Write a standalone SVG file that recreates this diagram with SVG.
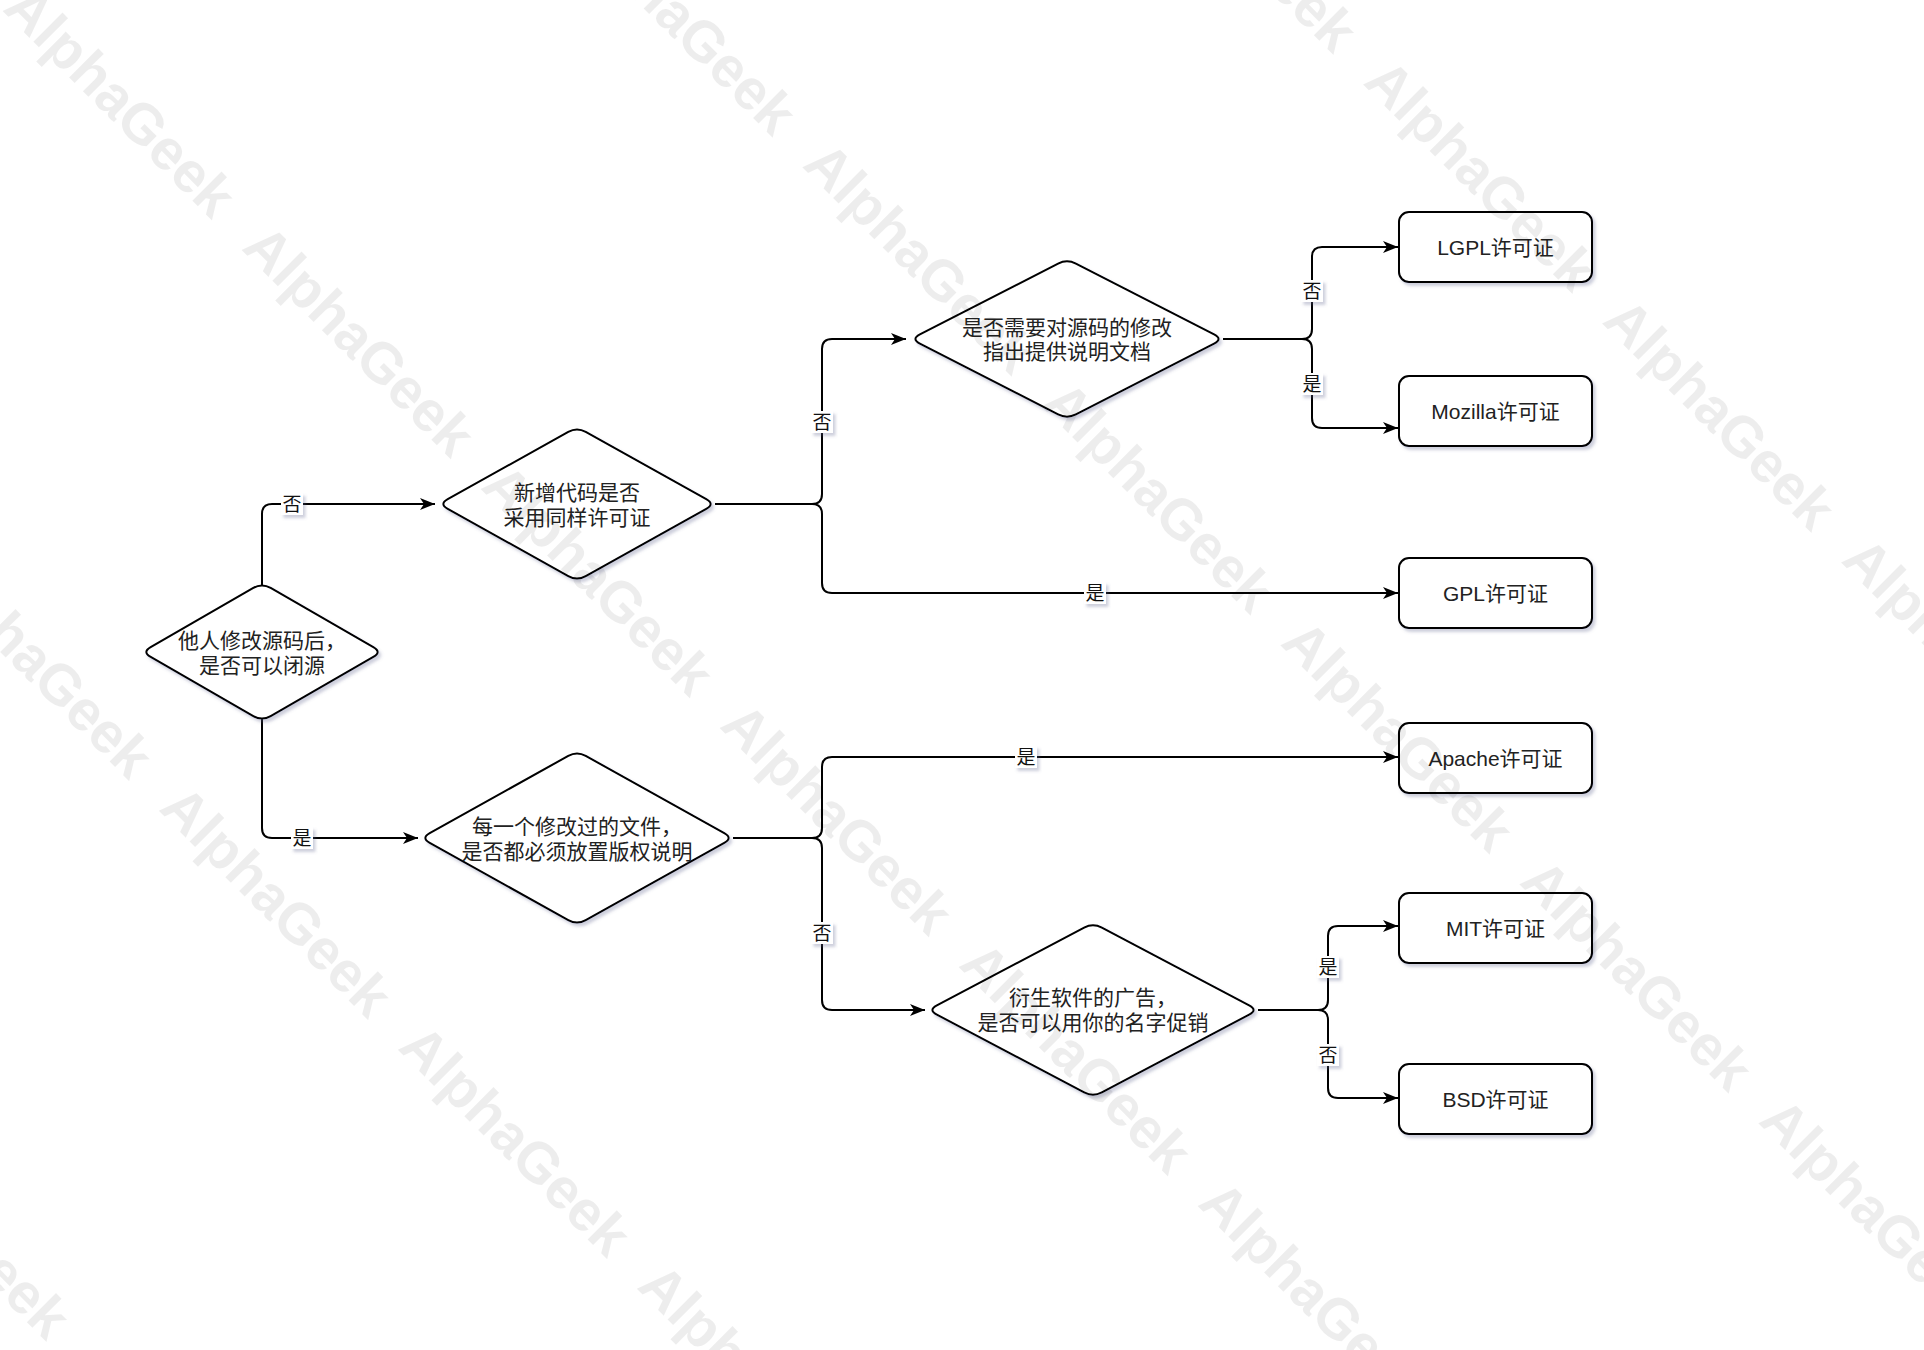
<svg xmlns="http://www.w3.org/2000/svg" width="1924" height="1350" viewBox="0 0 1924 1350">
<style>
.shape{fill:#fff;stroke:#000;stroke-width:2;filter:url(#sh)}
.edge{fill:none;stroke:#000;stroke-width:2;marker-end:url(#arr)}
.t{font-family:"Liberation Sans","Noto Sans CJK SC",sans-serif;font-size:21px;fill:#222;text-anchor:middle;dominant-baseline:central}
.lb{fill:#fff;filter:url(#sh)}
.lt{font-family:"Liberation Sans","Noto Sans CJK SC",sans-serif;font-size:19px;fill:#111;text-anchor:middle;dominant-baseline:central}
.wm{font-family:"Liberation Sans",sans-serif;font-weight:bold;font-size:57px;fill:#000;fill-opacity:0.07}
</style>
<defs>
<filter id="sh" x="-10%" y="-10%" width="130%" height="140%">
<feDropShadow dx="2.5" dy="3" stdDeviation="1.6" flood-color="#5a5f8c" flood-opacity="0.3"/>
</filter>
<marker id="arr" markerUnits="userSpaceOnUse" markerWidth="16" markerHeight="13" refX="15" refY="6" orient="auto">
<path d="M0,0 L15,6 L0,12 L4,6 Z" fill="#000"/>
</marker>
</defs>
<rect width="1924" height="1350" fill="#fff"/>
<g id="connectors">
<path class="edge" d="M262,585 V514 Q262,504 272,504 H435"/>
<path class="edge" d="M262,719 V828 Q262,838 272,838 H418"/>
<path class="edge" d="M715,504 H812 Q822,504 822,494 V349 Q822,339 832,339 H906"/>
<path class="edge" d="M715,504 H812 Q822,504 822,514 V583 Q822,593 832,593 H1398"/>
<path class="edge" d="M733,838 H812 Q822,838 822,828 V767 Q822,757 832,757 H1398"/>
<path class="edge" d="M733,838 H812 Q822,838 822,848 V1000 Q822,1010 832,1010 H925"/>
<path class="edge" d="M1223,339 H1302 Q1312,339 1312,329 V257 Q1312,247 1322,247 H1398"/>
<path class="edge" d="M1223,339 H1302 Q1312,339 1312,349 V418 Q1312,428 1322,428 H1398"/>
<path class="edge" d="M1258,1010 H1318 Q1328,1010 1328,1000 V936 Q1328,926 1338,926 H1398"/>
<path class="edge" d="M1258,1010 H1318 Q1328,1010 1328,1020 V1088 Q1328,1098 1338,1098 H1398"/>
<g id="labels">
<rect class="lb" x="281" y="493" width="22" height="22"/><text class="lt" x="292" y="504">否</text>
<rect class="lb" x="291" y="827" width="22" height="22"/><text class="lt" x="302" y="838">是</text>
<rect class="lb" x="811" y="411" width="22" height="22"/><text class="lt" x="822" y="422">否</text>
<rect class="lb" x="1084" y="582" width="22" height="22"/><text class="lt" x="1095" y="593">是</text>
<rect class="lb" x="1015" y="746" width="22" height="22"/><text class="lt" x="1026" y="757">是</text>
<rect class="lb" x="811" y="922" width="22" height="22"/><text class="lt" x="822" y="933">否</text>
<rect class="lb" x="1301" y="280" width="22" height="22"/><text class="lt" x="1312" y="291">否</text>
<rect class="lb" x="1301" y="373" width="22" height="22"/><text class="lt" x="1312" y="384">是</text>
<rect class="lb" x="1317" y="956" width="22" height="22"/><text class="lt" x="1328" y="967">是</text>
<rect class="lb" x="1317" y="1044" width="22" height="22"/><text class="lt" x="1328" y="1055">否</text>
</g>
</g>
<g id="d1">
<path class="shape" d="M150.67,647.01 L253.33,587.99 Q262,583 270.67,587.99 L373.33,647.01 Q382,652 373.33,656.99 L270.67,716.01 Q262,721 253.33,716.01 L150.67,656.99 Q142,652 150.67,647.01 Z"/>
<text class="t" x="262" y="640">他人修改源码后，</text>
<text class="t" x="262" y="665">是否可以闭源</text>
</g>
<g id="d2">
<path class="shape" d="M447.73,499.13 L568.27,431.87 Q577,427 585.73,431.87 L706.27,499.13 Q715,504 706.27,508.87 L585.73,576.13 Q577,581 568.27,576.13 L447.73,508.87 Q439,504 447.73,499.13 Z"/>
<text class="t" x="577" y="492">新增代码是否</text>
<text class="t" x="577" y="517">采用同样许可证</text>
</g>
<g id="d3">
<path class="shape" d="M429.73,833.13 L568.27,755.87 Q577,751 585.73,755.87 L724.27,833.13 Q733,838 724.27,842.87 L585.73,920.13 Q577,925 568.27,920.13 L429.73,842.87 Q421,838 429.73,833.13 Z"/>
<text class="t" x="577" y="826">每一个修改过的文件，</text>
<text class="t" x="577" y="851">是否都必须放置版权说明</text>
</g>
<g id="d4">
<path class="shape" d="M919.9,334.44 L1058.1,263.56 Q1067,259 1075.9,263.56 L1214.1,334.44 Q1223,339 1214.1,343.56 L1075.9,414.44 Q1067,419 1058.1,414.44 L919.9,343.56 Q911,339 919.9,334.44 Z"/>
<text class="t" x="1067" y="327">是否需要对源码的修改</text>
<text class="t" x="1067" y="351">指出提供说明文档</text>
</g>
<g id="d5">
<path class="shape" d="M936.85,1005.34 L1084.15,927.66 Q1093,923 1101.85,927.66 L1249.15,1005.34 Q1258,1010 1249.15,1014.66 L1101.85,1092.34 Q1093,1097 1084.15,1092.34 L936.85,1014.66 Q928,1010 936.85,1005.34 Z"/>
<text class="t" x="1093" y="997">衍生软件的广告，</text>
<text class="t" x="1093" y="1022">是否可以用你的名字促销</text>
</g>
<g id="lgpl"><rect class="shape" x="1399" y="212" width="193" height="70" rx="10"/><text class="t" x="1495.5" y="247">LGPL许可证</text></g>
<g id="mozilla"><rect class="shape" x="1399" y="376" width="193" height="70" rx="10"/><text class="t" x="1495.5" y="411">Mozilla许可证</text></g>
<g id="gpl"><rect class="shape" x="1399" y="558" width="193" height="70" rx="10"/><text class="t" x="1495.5" y="593">GPL许可证</text></g>
<g id="apache"><rect class="shape" x="1399" y="723" width="193" height="70" rx="10"/><text class="t" x="1495.5" y="758">Apache许可证</text></g>
<g id="mit"><rect class="shape" x="1399" y="893" width="193" height="70" rx="10"/><text class="t" x="1495.5" y="928">MIT许可证</text></g>
<g id="bsd"><rect class="shape" x="1399" y="1064" width="193" height="70" rx="10"/><text class="t" x="1495.5" y="1099">BSD许可证</text></g>
<g id="watermark" transform="rotate(45)" class="wm">
<text x="8" y="6">AlphaGeek</text><text x="346" y="6">AlphaGeek</text><text x="684" y="6">AlphaGeek</text><text x="1022" y="6">AlphaGeek</text><text x="1360" y="6">AlphaGeek</text><text x="1698" y="6">AlphaGeek</text>
<text x="346" y="-449">AlphaGeek</text><text x="684" y="-449">AlphaGeek</text><text x="1022" y="-449">AlphaGeek</text><text x="1360" y="-449">AlphaGeek</text><text x="1698" y="-449">AlphaGeek</text><text x="2036" y="-449">AlphaGeek</text>
<text x="684" y="-904">AlphaGeek</text><text x="1022" y="-904">AlphaGeek</text><text x="1360" y="-904">AlphaGeek</text><text x="1698" y="-904">AlphaGeek</text>
<text x="346" y="461">AlphaGeek</text><text x="684" y="461">AlphaGeek</text><text x="1022" y="461">AlphaGeek</text><text x="1360" y="461">AlphaGeek</text>
<text x="684" y="916">AlphaGeek</text><text x="1022" y="916">AlphaGeek</text>
</g>
</svg>
